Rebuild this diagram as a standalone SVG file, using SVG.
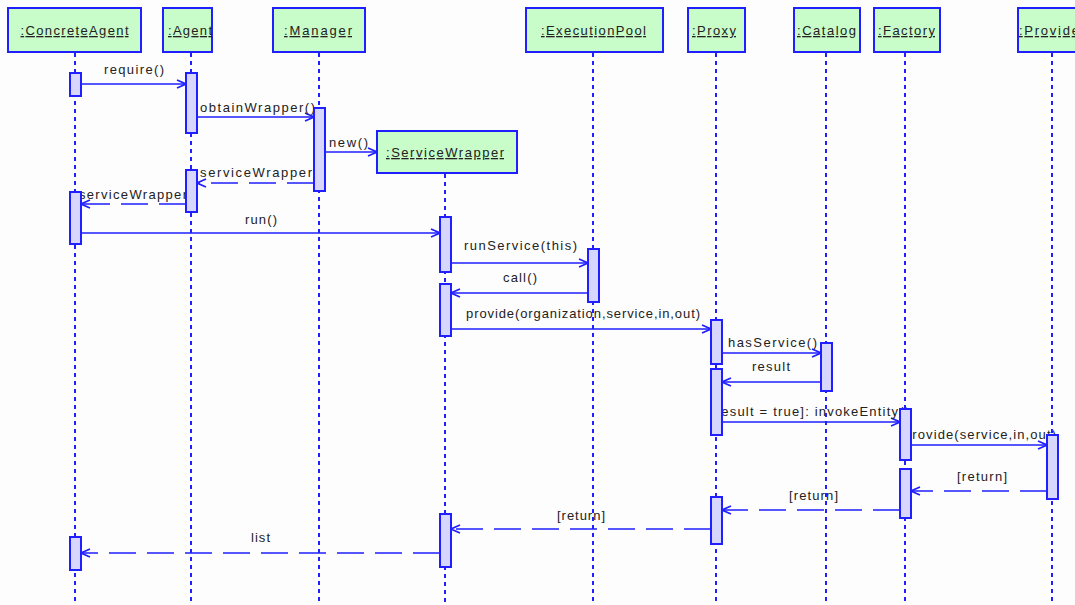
<svg xmlns="http://www.w3.org/2000/svg" width="1075" height="605" viewBox="0 0 1075 605">
<defs>
<style>
.bg{fill:#fdfdfd}
.hdr{fill:#c8fcc8;stroke:#1f1fff;stroke-width:2}
.ht{font-family:"Liberation Sans",Arial,sans-serif;font-size:13px;fill:#222;text-decoration:underline}
.life{stroke:#1f1fff;stroke-width:2;stroke-dasharray:4 4;fill:none}
.act{fill:#d6d6ff;stroke:#1f1fff;stroke-width:2}
.call{stroke:#1f1fff;stroke-width:1.6;fill:none;marker-end:url(#ah)}
.ret{stroke:#1f1fff;stroke-width:1.6;fill:none;stroke-dasharray:27 11;marker-end:url(#ah)}
.lbl{font-family:"Liberation Sans",Arial,sans-serif;font-size:13px;fill:#222}
</style>
<marker id="ah" viewBox="0 0 10 10" refX="10" refY="5" markerWidth="10" markerHeight="10" markerUnits="userSpaceOnUse" orient="auto">
<path d="M1,1 L10,5 L1,9" fill="none" stroke="#1f1fff" stroke-width="1.6"/>
</marker>
</defs>
<rect class="bg" x="0" y="0" width="1075" height="605"/>

<g id="connectors">
<line class="call" x1="81" y1="84" x2="186" y2="84"/>
<text class="lbl" x="104" y="74" textLength="60" lengthAdjust="spacing">require()</text>
<line class="call" x1="197" y1="117" x2="314" y2="117"/>
<text class="lbl" x="200" y="112" textLength="115" lengthAdjust="spacing">obtainWrapper()</text>
<line class="call" x1="325" y1="152" x2="377" y2="152"/>
<text class="lbl" x="329" y="147" textLength="39" lengthAdjust="spacing">new()</text>
<line class="ret" x1="314" y1="183" x2="197" y2="183"/>
<text class="lbl" x="200" y="177" textLength="112" lengthAdjust="spacing">serviceWrapper</text>
<line class="ret" x1="186" y1="204" x2="81" y2="204"/>
<text class="lbl" x="79" y="199" textLength="108" lengthAdjust="spacing">serviceWrapper</text>
<line class="call" x1="81" y1="233" x2="440" y2="233"/>
<text class="lbl" x="245" y="224" textLength="32" lengthAdjust="spacing">run()</text>
<line class="call" x1="451" y1="263" x2="588" y2="263"/>
<text class="lbl" x="464" y="250" textLength="113" lengthAdjust="spacing">runService(this)</text>
<line class="call" x1="588" y1="293" x2="451" y2="293"/>
<text class="lbl" x="503" y="282" textLength="34" lengthAdjust="spacing">call()</text>
<line class="call" x1="451" y1="329" x2="711" y2="329"/>
<text class="lbl" x="466" y="318" textLength="234" lengthAdjust="spacing">provide(organization,service,in,out)</text>
<line class="call" x1="722" y1="353" x2="821" y2="353"/>
<text class="lbl" x="728" y="347" textLength="89" lengthAdjust="spacing">hasService()</text>
<line class="call" x1="821" y1="382" x2="722" y2="382"/>
<text class="lbl" x="752" y="371" textLength="38" lengthAdjust="spacing">result</text>
<line class="call" x1="722" y1="422" x2="900" y2="422"/>
<text class="lbl" x="711" y="416" textLength="198" lengthAdjust="spacing">[result = true]: invokeEntity()</text>
<line class="call" x1="911" y1="445" x2="1047" y2="445"/>
<text class="lbl" x="904" y="439" textLength="152" lengthAdjust="spacing">provide(service,in,out)</text>
<line class="ret" x1="1047" y1="491" x2="911" y2="491"/>
<text class="lbl" x="957" y="481" textLength="50" lengthAdjust="spacing">[return]</text>
<line class="ret" x1="900" y1="510" x2="722" y2="510"/>
<text class="lbl" x="789" y="500" textLength="49" lengthAdjust="spacing">[return]</text>
<line class="ret" x1="711" y1="529" x2="451" y2="529"/>
<text class="lbl" x="557" y="520" textLength="48" lengthAdjust="spacing">[return]</text>
<line class="ret" x1="440" y1="553" x2="81" y2="553"/>
<text class="lbl" x="251" y="542" textLength="19" lengthAdjust="spacing">list</text>
</g>

<g id="ConcreteAgent">
<line class="life" x1="75" y1="53" x2="75" y2="605"/>
<rect class="hdr" x="8" y="8" width="133" height="44"/>
<text class="ht" x="20.5" y="35" textLength="108" lengthAdjust="spacing">:ConcreteAgent</text>
<rect class="act" x="70" y="73" width="11" height="23"/>
<rect class="act" x="70" y="192" width="11" height="52"/>
<rect class="act" x="70" y="537" width="11" height="33"/>
</g>

<g id="Agent">
<line class="life" x1="191" y1="53" x2="191" y2="605"/>
<rect class="hdr" x="163" y="8" width="49" height="44"/>
<text class="ht" x="168" y="35" textLength="44" lengthAdjust="spacing">:Agent</text>
<rect class="act" x="186" y="73" width="11" height="60"/>
<rect class="act" x="186" y="170" width="11" height="42"/>
</g>

<g id="Manager">
<line class="life" x1="319" y1="53" x2="319" y2="605"/>
<rect class="hdr" x="273" y="8" width="92" height="44"/>
<text class="ht" x="284" y="35" textLength="68" lengthAdjust="spacing">:Manager</text>
<rect class="act" x="314" y="108" width="11" height="83"/>
</g>

<g id="ServiceWrapper">
<line class="life" x1="445" y1="174" x2="445" y2="605"/>
<rect class="hdr" x="377" y="131" width="140" height="42"/>
<text class="ht" x="386" y="157" textLength="118" lengthAdjust="spacing">:ServiceWrapper</text>
<rect class="act" x="440" y="217" width="11" height="55"/>
<rect class="act" x="440" y="284" width="11" height="52"/>
<rect class="act" x="440" y="514" width="11" height="53"/>
</g>

<g id="ExecutionPool">
<line class="life" x1="593" y1="53" x2="593" y2="605"/>
<rect class="hdr" x="526" y="8" width="137" height="44"/>
<text class="ht" x="541" y="35" textLength="105" lengthAdjust="spacing">:ExecutionPool</text>
<rect class="act" x="588" y="249" width="11" height="53"/>
</g>

<g id="Proxy">
<line class="life" x1="716" y1="53" x2="716" y2="605"/>
<rect class="hdr" x="688" y="8" width="57" height="44"/>
<text class="ht" x="692" y="35" textLength="44" lengthAdjust="spacing">:Proxy</text>
<rect class="act" x="711" y="320" width="11" height="44"/>
<rect class="act" x="711" y="369" width="11" height="66"/>
<rect class="act" x="711" y="497" width="11" height="47"/>
</g>

<g id="Catalog">
<line class="life" x1="826" y1="53" x2="826" y2="605"/>
<rect class="hdr" x="794" y="8" width="66" height="44"/>
<text class="ht" x="797" y="35" textLength="59" lengthAdjust="spacing">:Catalog</text>
<rect class="act" x="821" y="343" width="11" height="48"/>
</g>

<g id="Factory">
<line class="life" x1="905" y1="53" x2="905" y2="605"/>
<rect class="hdr" x="874" y="8" width="66" height="44"/>
<text class="ht" x="878" y="35" textLength="57" lengthAdjust="spacing">:Factory</text>
<rect class="act" x="900" y="409" width="11" height="51"/>
<rect class="act" x="900" y="469" width="11" height="49"/>
</g>

<g id="Provider">
<line class="life" x1="1052" y1="53" x2="1052" y2="605"/>
<rect class="hdr" x="1018" y="8" width="72" height="44"/>
<text class="ht" x="1019" y="35" textLength="66" lengthAdjust="spacing">:Provider</text>
<rect class="act" x="1047" y="435" width="11" height="64"/>
</g>
</svg>
